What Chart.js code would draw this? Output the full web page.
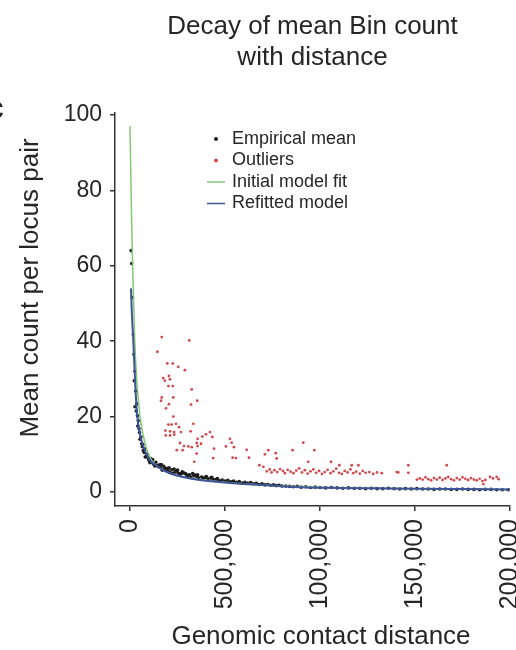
<!DOCTYPE html>
<html>
<head>
<meta charset="utf-8">
<script src="https://cdn.jsdelivr.net/npm/chart.js@4.4.1/dist/chart.umd.min.js"></script>
<style>
  body { margin: 0; background: #fff; }
  canvas { display: block; }
</style>
</head>
<body>
<canvas id="myChart" width="516" height="650"></canvas>
<script>
// data (distance in bp, mean count)
const titleLines = ['Decay of mean Bin count', 'with distance'];
const xTickValues = [0, 50000, 100000, 150000, 200000];
const xTickLabels = ['0', '500,000', '100,000', '150,000', '200,000'];
const yTickValues = [0, 20, 40, 60, 80, 100];

const meanDist = [600, 900, 1300, 1740, 2100, 2260, 2630, 3000, 2630, 3530, 3300, 3900, 4100, 4370, 4740, 5000, 5300,
  5790, 6160, 6500, 7000, 7500, 8000, 8790, 9500, 10000, 10500, 11400, 12500, 13000, 14900, 15500, 16000, 17000,
  18400, 19000, 20000, 21000, 22000, 23700, 24500, 25500, 26500, 27500, 28900, 29500, 30500, 32000, 33000, 34200,
  35000, 36000, 37700, 39500, 41000, 42500, 44000, 45500, 47000, 48500, 50000, 51500, 53000, 54500, 56000, 57500,
  59000, 60500, 62000, 63500, 65000, 66500, 68000, 69500, 71000, 72500, 74000, 75500, 77000, 78500, 80000, 82000,
  84000, 86000, 88000, 90000, 92500, 95000, 97500, 100000, 103000, 106000, 109000, 112000, 115000, 118000, 121000,
  124000, 127000, 130000, 133000, 136000, 139000, 142000, 145000, 148000, 151000, 154000, 157000, 160000, 163000,
  166000, 169000, 172000, 175000, 178000, 181000, 184000, 187000, 190000, 193000, 196000, 199000,
  6800, 7800, 9200, 10800, 11900, 13600, 14300, 16500, 17800, 19600, 20600, 22600, 23200, 25000, 27000, 28200,
  30000, 31300, 33600, 35600, 38500, 40200, 43000, 46000];
const meanCount = [64.0, 60.6, 51.6, 41.8, 36.5, 29.5, 32.0, 26.8, 22.6, 23.4, 21.5, 20.2, 17.5, 18.9, 16.8, 15.8, 14.0,
  14.6, 12.8, 12.0, 11.0, 10.5, 9.3, 9.7, 9.0, 8.4, 7.8, 8.0, 7.4, 6.9, 6.7, 7.2, 6.5, 5.8,
  6.2, 6.0, 5.6, 5.2, 5.9, 5.3, 5.6, 5.0, 4.6, 5.4, 4.9, 4.8, 4.4, 4.0, 4.9, 4.5,
  4.2, 3.8, 4.0, 3.9, 3.5, 3.7, 3.3, 3.4, 3.0, 3.2, 2.9, 3.1, 2.7, 2.9, 2.6, 2.8,
  2.4, 2.6, 2.3, 2.5, 2.2, 2.3, 2.0, 2.2, 1.9, 2.0, 1.8, 1.9, 1.7, 1.8, 1.6, 1.6,
  1.5, 1.4, 1.5, 1.3, 1.4, 1.2, 1.3, 1.2, 1.1, 1.2, 1.1, 1.0, 1.1, 1.0, 1.0,
  0.9, 1.0, 0.9, 0.9, 1.0, 0.9, 0.8, 0.9, 0.8, 0.9, 0.8, 0.8, 0.7, 0.8,
  0.8, 0.7, 0.7, 0.8, 0.7, 0.7, 0.6, 0.7, 0.7, 0.6, 0.6, 0.6,
  12.6, 11.4, 10.1, 8.9, 8.6, 7.9, 7.0, 7.3, 6.8, 6.3, 6.4, 5.0, 6.1, 5.8, 4.9, 5.1,
  4.2, 4.6, 4.3, 4.6, 3.5, 4.1, 3.9, 3.6];

const outlierDist = [16700, 14400, 31200, 19600, 22500, 25400, 28900, 17500, 18400, 20500, 21000, 20200, 22500, 32500,
  16700, 16300, 22800, 20500, 35400, 32100, 18900, 22800, 33300, 20200, 21900, 24200, 25800, 18600, 21100, 23200,
  26800, 18800, 21100, 23300, 31900, 42100, 40000, 38100, 35600, 43300, 35100, 37400, 26300, 28400, 30700, 32500,
  35600, 24600, 27700, 35100, 44200, 43800, 33800, 52600, 53500, 50500, 54700, 61400, 54000, 55800, 62600, 72800,
  71000, 76700, 68100, 77200, 91200, 85600, 97000, 93800, 105800, 110200, 116700, 120200, 146500, 166700, 140400,
  146500, 141200, 151000, 186000, 189500, 193000,
  70200, 72000, 73500, 74500, 76000, 77500, 79000, 80500, 81500, 83000, 84500, 86000, 87500, 89000, 90500, 92000,
  93500, 95000, 96500, 98000, 99500, 101000, 102500, 104000, 105500, 107000, 108500, 110000, 111500, 113000, 114500,
  116000, 117500, 119000, 121000, 122500, 124000, 126000, 128000, 130000, 132500,
  152500, 154000, 155500, 157000, 158500, 160000, 161500, 163000, 164500, 166000, 167500, 169000, 170500, 172000,
  173500, 175000, 176500, 178000, 179500, 181000, 182500, 184000, 185500, 187000, 191000, 194000];
const outlierCount = [41.1, 37.2, 40.2, 34.1, 34.1, 33.2, 32.3, 30.2, 29.5, 30.8, 29.9, 28.1, 28.1, 27.2,
  25.1, 24.2, 25.1, 23.3, 24.2, 23.2, 22.2, 20.0, 18.1, 17.9, 17.9, 18.1, 17.2, 16.3, 16.1, 15.9,
  15.9, 15.0, 15.0, 15.2, 16.1, 15.9, 15.3, 14.7, 14.1, 14.6, 13.0, 12.8, 13.0, 12.2, 12.1, 11.9,
  12.2, 11.1, 11.1, 10.2, 11.5, 9.0, 8.0, 14.1, 13.1, 12.1, 11.9, 11.2, 9.1, 9.0, 9.1, 11.1,
  10.0, 10.3, 7.1, 8.9, 13.1, 11.1, 11.1, 8.0, 8.0, 7.1, 7.1, 7.1, 7.1, 7.1, 5.3,
  5.1, 5.2, 3.3, 2.1, 4.0, 4.0,
  6.7, 5.5, 6.0, 5.2, 5.8, 5.3, 6.1, 5.6, 5.0, 5.9, 5.4, 5.0, 5.7, 6.3, 5.2, 5.8,
  4.9, 5.5, 6.0, 5.1, 5.6, 4.8, 5.3, 5.9, 5.0, 5.5, 6.2, 5.1, 4.8, 5.6, 5.2,
  6.0, 5.0, 5.4, 4.9, 5.6, 5.1, 5.3, 4.8, 5.2, 5.0,
  3.6, 3.3, 3.9, 3.4, 3.1, 3.7, 3.3, 3.8, 3.2, 3.6, 4.0, 3.4, 3.1, 3.7,
  3.3, 3.9, 3.5, 3.2, 3.7, 3.3, 3.1, 3.5, 2.9, 3.2, 3.6, 3.4];

const initialDist = [0, 500, 1000, 1700, 2500, 3500, 5260, 7000, 9000, 11400, 14000, 17400, 22000, 30000, 45000, 70000,
  100000, 150000, 200000];
const initialCount = [97, 82, 68, 54, 40, 30, 20, 15, 11, 8.4, 7, 5.8, 4.8, 3.8, 2.8, 1.9, 1.3, 0.9, 0.7];

const refitDist = [500, 1000, 1750, 2800, 3850, 5000, 7000, 10500, 14000, 17400, 22000, 28000, 35000, 45600, 58000,
  72000, 90000, 110000, 130000, 150000, 175000, 200000];
const refitCount = [54, 47, 40, 28, 20, 16, 12, 8.4, 7, 5.8, 4.8, 4, 3.3, 2.7, 2.2, 1.8, 1.3, 1.1, 1.0, 0.9, 0.8, 0.7];

const toPoints = (xs, ys) => xs.map((x, i) => ({ x: x, y: ys[i] }));

const FONT = "'Liberation Sans', Arial, sans-serif";
const TEXT = '#262626';

// titles + legend drawn by hand so they sit where the figure has them
const decorPlugin = {
  id: 'decor',
  afterDraw(chart) {
    const ctx = chart.ctx;
    const area = chart.chartArea;
    ctx.save();
    ctx.fillStyle = TEXT;
    ctx.textBaseline = 'middle';

    // panel letter, cut off at the left edge
    ctx.font = 'bold 34px ' + FONT;
    ctx.textAlign = 'left';
    ctx.fillText('c', -15, 110);

    // main title
    ctx.font = '26px ' + FONT;
    ctx.textAlign = 'center';
    const cx = (area.left + area.right) / 2;
    titleLines.forEach((t, i) => ctx.fillText(t, cx, 27 + i * 31));

    // y axis title
    ctx.save();
    ctx.translate(31, 288);
    ctx.rotate(-Math.PI / 2);
    ctx.font = '26px ' + FONT;
    ctx.fillText('Mean count per locus pair', 0, 0);
    ctx.restore();

    // x axis title
    ctx.font = '26px ' + FONT;
    ctx.fillText('Genomic contact distance', 321, 637);

    // legend
    ctx.font = '18px ' + FONT;
    ctx.textAlign = 'left';
    chart.data.datasets.forEach((ds, i) => {
      const y = 139 + i * 21.5;
      if (ds.showLine) {
        ctx.strokeStyle = ds.borderColor;
        ctx.lineWidth = 1.5;
        ctx.beginPath();
        ctx.moveTo(207, y);
        ctx.lineTo(225, y);
        ctx.stroke();
      } else {
        ctx.fillStyle = ds.backgroundColor;
        ctx.beginPath();
        ctx.arc(216, y, 2, 0, Math.PI * 2);
        ctx.fill();
      }
      ctx.fillStyle = TEXT;
      ctx.fillText(ds.label, 232, y);
    });
    ctx.restore();
  }
};

const data = {
  datasets: [
    {
      label: 'Empirical mean',
      data: toPoints(meanDist, meanCount),
      backgroundColor: '#1c1c1c',
      borderColor: '#1c1c1c',
      pointRadius: 1.8,
      borderWidth: 0,
      showLine: false,
      order: 3
    },
    {
      label: 'Outliers',
      data: toPoints(outlierDist, outlierCount),
      backgroundColor: '#cf4a4e',
      borderColor: '#cf4a4e',
      pointRadius: 1.4,
      borderWidth: 0,
      showLine: false,
      order: 0
    },
    {
      label: 'Initial model fit',
      data: toPoints(initialDist, initialCount),
      borderColor: '#86c777',
      backgroundColor: '#86c777',
      borderWidth: 1.5,
      pointRadius: 0,
      showLine: true,
      cubicInterpolationMode: 'monotone',
      order: 2
    },
    {
      label: 'Refitted model',
      data: toPoints(refitDist, refitCount),
      borderColor: '#3d5499',
      backgroundColor: '#3d5499',
      borderWidth: 2,
      pointRadius: 0,
      showLine: true,
      cubicInterpolationMode: 'monotone',
      order: 1
    }
  ]
};

const config = {
  type: 'scatter',
  data,
  options: {
    responsive: false,
    animation: false,
    layout: { padding: { top: 113, left: 0, right: 0, bottom: 0 } },
    plugins: {
      legend: { display: false },
      title: { display: false },
      tooltip: { enabled: false }
    },
    scales: {
      x: {
        type: 'linear',
        min: -7900,
        max: 200000,
        afterBuildTicks: scale => { scale.ticks = xTickValues.map(v => ({ value: v })); },
        afterFit: scale => { scale.height = 144; scale.paddingRight = 6; },
        border: { display: true, color: '#333', width: 1.5 },
        grid: { display: true, drawOnChartArea: false, drawTicks: true, tickLength: 5, color: '#333', lineWidth: 1.5 },
        ticks: {
          minRotation: 90,
          maxRotation: 90,
          padding: 8,
          color: TEXT,
          font: { family: FONT, size: 25 },
          callback: (value, index) => xTickLabels[index]
        }
      },
      y: {
        type: 'linear',
        min: -3.7,
        max: 100.5,
        afterBuildTicks: scale => { scale.ticks = yTickValues.map(v => ({ value: v })); },
        afterFit: scale => { scale.width = 115; },
        border: { display: true, color: '#333', width: 1.5 },
        grid: { display: true, drawOnChartArea: false, drawTicks: true, tickLength: 5, color: '#333', lineWidth: 1.5 },
        ticks: {
          padding: 8,
          color: TEXT,
          font: { family: FONT, size: 23 }
        }
      }
    }
  },
  plugins: [decorPlugin]
};

const ctx = document.getElementById('myChart');
const myChart = new Chart(ctx, config);
</script>
</body>
</html>
